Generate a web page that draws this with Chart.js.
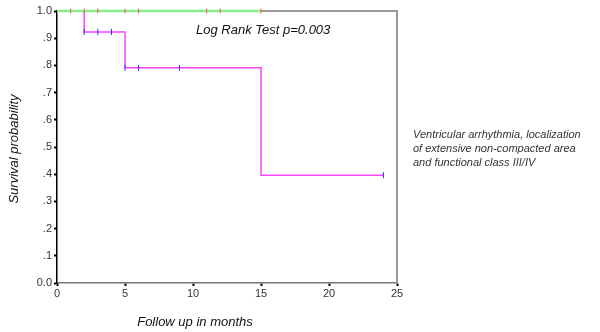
<!DOCTYPE html>
<html lang="en">
<head>
  <meta charset="UTF-8">
  <title>Survival curve</title>
  <script src="https://cdn.jsdelivr.net/npm/chart.js"></script>
  <style>
    body { margin: 0; background: #fff; }
    #wrap { width: 600px; height: 332px; }
  </style>
</head>
<body>
  <div id="wrap"><canvas id="kmChart" width="600" height="332"></canvas></div>

  <script>
    // Kaplan-Meier step points (months, survival)
    const groupAMonths = [0, 15];
    const groupASurvival = [1.0, 1.0];
    const groupACensorMonths = [1, 2, 3, 5, 6, 11, 12, 15];

    const groupBMonths = [0, 2, 5, 15, 24];
    const groupBSurvival = [1.0, 0.923, 0.791, 0.396, 0.396];
    const groupBCensorMonths = [2, 3, 4, 5, 6, 9, 24];
    const groupBCensorSurvival = [0.923, 0.923, 0.923, 0.791, 0.791, 0.791, 0.396];

    const xTicks = [0, 5, 10, 15, 20, 25];
    const yTicks = [0, 0.1, 0.2, 0.3, 0.4, 0.5, 0.6, 0.7, 0.8, 0.9, 1.0];

    const testLabel = "Log Rank Test p=0.003";
    const xTitle = "Follow up in months";
    const yTitle = "Survival probability";
    const noteLines = [
      "Ventricular arrhythmia, localization",
      "of extensive non-compacted area",
      "and functional class III/IV"
    ];

    const fontFamily = "'Liberation Sans', Arial, sans-serif";

    const toXY = (xs, ys) => xs.map((x, i) => ({ x, y: ys[i] }));

    // frame on top/right, drawn under the curves; free text on top
    const framePlugin = {
      id: "frame",
      beforeDatasetsDraw(chart) {
        const { ctx, chartArea: a } = chart;
        ctx.save();
        ctx.strokeStyle = "#999";
        ctx.lineWidth = 2;
        ctx.beginPath();
        ctx.moveTo(a.left, a.top);
        ctx.lineTo(a.right, a.top);
        ctx.lineTo(a.right, a.bottom);
        ctx.stroke();
        ctx.restore();
      },
      afterDraw(chart) {
        const { ctx } = chart;
        ctx.save();
        ctx.fillStyle = "#111";
        ctx.font = "italic 13px " + fontFamily;
        ctx.textBaseline = "middle";
        ctx.fillText(testLabel, 196, 30);

        ctx.textAlign = "center";
        ctx.fillText(xTitle, 195, 322);

        ctx.save();
        ctx.translate(14, 149);
        ctx.rotate(-Math.PI / 2);
        ctx.fillText(yTitle, 0, 0);
        ctx.restore();

        ctx.textAlign = "left";
        ctx.fillStyle = "#333";
        ctx.font = "italic 11px " + fontFamily;
        noteLines.forEach((line, i) => ctx.fillText(line, 413, 135 + i * 14));
        ctx.restore();
      }
    };

    new Chart(document.getElementById("kmChart"), {
      type: "line",
      data: {
        datasets: [
          {
            label: "Group B",
            data: toXY(groupBMonths, groupBSurvival),
            stepped: "before",
            borderColor: "#ff44ff",
            borderWidth: 1.5,
            pointRadius: 0,
            fill: false,
            clip: 6,
            order: 3
          },
          {
            label: "Group A",
            data: toXY(groupAMonths, groupASurvival),
            stepped: "before",
            borderColor: "#88ee88",
            borderWidth: 2.5,
            pointRadius: 0,
            fill: false,
            clip: 6,
            order: 2
          },
          {
            label: "A censored",
            type: "scatter",
            data: groupACensorMonths.map(x => ({ x, y: 1.0 })),
            pointStyle: "line",
            rotation: 90,
            pointRadius: 2.5,
            borderColor: "#ff5050",
            borderWidth: 1,
            clip: 6,
            order: 1
          },
          {
            label: "B censored",
            type: "scatter",
            data: toXY(groupBCensorMonths, groupBCensorSurvival),
            pointStyle: "line",
            rotation: 90,
            pointRadius: 3,
            borderColor: "#2030ff",
            borderWidth: 1,
            clip: 6,
            order: 1
          }
        ]
      },
      options: {
        responsive: false,
        animation: false,
        layout: { padding: { top: 11, right: 203, left: 0, bottom: 0 } },
        plugins: {
          legend: { display: false },
          tooltip: { enabled: false }
        },
        scales: {
          x: {
            type: "linear",
            min: 0,
            max: 25,
            afterBuildTicks(scale) { scale.ticks = xTicks.map(v => ({ value: v })); },
            afterFit(scale) { scale.height = 49; },
            ticks: {
              color: "#333",
              font: { family: fontFamily, size: 11 },
              padding: 1,
              maxRotation: 0
            },
            grid: { drawOnChartArea: false, tickLength: 3, tickWidth: 2, tickColor: "#000" },
            border: { color: "#777", width: 1.5 }
          },
          y: {
            min: 0,
            max: 1,
            afterBuildTicks(scale) { scale.ticks = yTicks.map(v => ({ value: v })); },
            afterFit(scale) { scale.width = 57; },
            ticks: {
              color: "#333",
              font: { family: fontFamily, size: 11 },
              padding: 2,
              callback: v => (v === 0 ? "0.0" : v === 1 ? "1.0" : v.toFixed(1).replace(/^0/, ""))
            },
            grid: { drawOnChartArea: false, tickLength: 3, tickWidth: 2, tickColor: "#000" },
            border: { color: "#000", width: 1.5 }
          }
        }
      },
      plugins: [framePlugin]
    });
  </script>
</body>
</html>
